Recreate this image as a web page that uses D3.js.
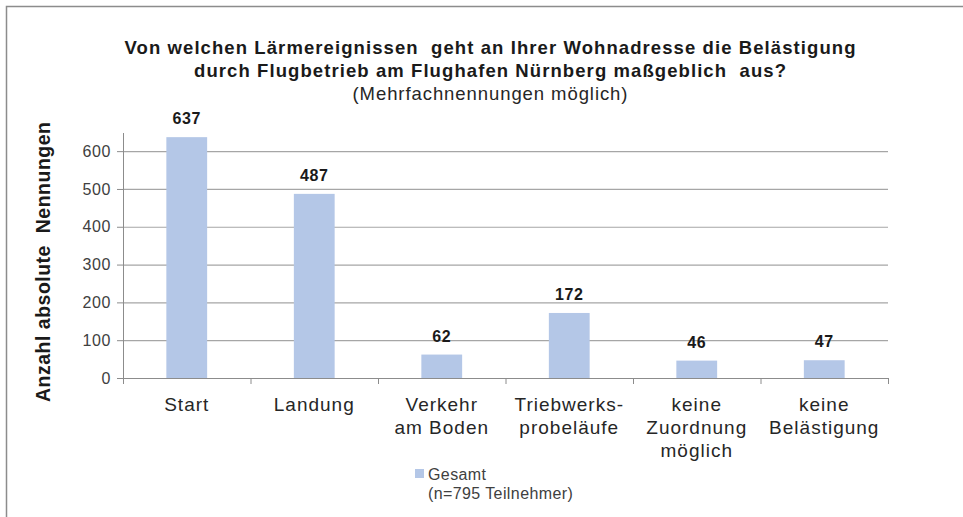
<!DOCTYPE html>
<html>
<head>
<meta charset="utf-8">
<script src="https://cdn.jsdelivr.net/npm/d3@7"></script>
<style>
  body{margin:0;background:#fff;}
  svg{font-family:"Liberation Sans",Arial,sans-serif;}
</style>
</head>
<body>
<svg width="963" height="517"></svg>
<script>
// data
const categories=[["Start"],["Landung"],["Verkehr","am Boden"],["Triebwerks-","probeläufe"],["keine","Zuordnung","möglich"],["keine","Belästigung"]];
const values=[637,487,62,172,46,47];
const yTicks=[0,100,200,300,400,500,600];
const titleLines=["Von welchen Lärmereignissen  geht an Ihrer Wohnadresse die Belästigung","durch Flugbetrieb am Flughafen Nürnberg maßgeblich  aus?"];
const subTitle="(Mehrfachnennungen möglich)";
const legendLines=["Gesamt","(n=795 Teilnehmer)"];

const svg=d3.select('svg');
const margin={top:133,left:123,right:75,bottom:139};
const W=963,H=517;
const innerW=W-margin.left-margin.right;
const innerH=H-margin.top-margin.bottom;

// outer frame (only top/left visible)
svg.append('path')
  .attr('d',`M6.5,${H} V6.5 H${W}`)
  .attr('fill','none').attr('stroke','#8c8c8c').attr('stroke-width',1.5);

const g=svg.append('g').attr('transform',`translate(${margin.left},${margin.top})`);

const x=d3.scaleBand().domain(d3.range(values.length)).range([0,innerW]).paddingInner(0.68).paddingOuter(0.34);
const y=d3.scaleLinear().domain([0,648]).range([innerH,0]);

// gridlines
g.selectAll('.grid').data(yTicks.slice(1)).enter().append('line')
  .attr('x1',0).attr('x2',innerW)
  .attr('y1',d=>y(d)+0.5).attr('y2',d=>y(d)+0.5)
  .attr('stroke','#a6a6a6').attr('stroke-width',1.2);

// y axis
const yAxis=g.append('g').call(d3.axisLeft(y).tickValues(yTicks).tickSize(6).tickPadding(6));
yAxis.select('.domain').attr('stroke','#8c8c8c').attr('d',`M0.5,0V${innerH}`);
yAxis.selectAll('.tick line').attr('stroke','#8c8c8c');
yAxis.selectAll('text').attr('font-size',16).attr('letter-spacing',0.6).attr('fill','#404040');

// bars
g.selectAll('rect').data(values).enter().append('rect')
  .attr('x',(d,i)=>x(i)).attr('width',x.bandwidth())
  .attr('y',d=>y(d)).attr('height',d=>innerH-y(d))
  .attr('fill','#b4c7e7');

// value labels
g.selectAll('.val').data(values).enter().append('text')
  .attr('x',(d,i)=>x(i)+x.bandwidth()/2).attr('y',d=>y(d)-13)
  .attr('text-anchor','middle').attr('font-size',16).attr('letter-spacing',0.6)
  .attr('font-weight','bold').attr('fill','#1a1a1a')
  .text(d=>d);

// x axis line and boundary ticks
const step=innerW/values.length;
g.append('line').attr('x1',0).attr('x2',innerW).attr('y1',innerH+0.5).attr('y2',innerH+0.5)
  .attr('stroke','#8c8c8c').attr('stroke-width',1.2);
g.selectAll('.xt').data(d3.range(values.length+1)).enter().append('line')
  .attr('x1',d=>d*step+0.5).attr('x2',d=>d*step+0.5)
  .attr('y1',innerH).attr('y2',innerH+6).attr('stroke','#8c8c8c');

// category labels
const cat=g.selectAll('.cat').data(categories).enter().append('text')
  .attr('text-anchor','middle').attr('font-size',19).attr('letter-spacing',1)
  .attr('fill','#262626')
  .attr('transform',(d,i)=>`translate(${x(i)+x.bandwidth()/2},${innerH+33})`);
cat.selectAll('tspan').data(d=>d).enter().append('tspan')
  .attr('x',0).attr('dy',(d,i)=>i?23:0).text(d=>d);

// title
const titleW=[731,592];
svg.selectAll('.title').data(titleLines).enter().append('text')
  .attr('x',490).attr('y',(d,i)=>54+i*23)
  .attr('text-anchor','middle').attr('font-size',18.5).attr('font-weight','bold').attr('fill','#1a1a1a')
  .attr('xml:space','preserve')
  .attr('textLength',(d,i)=>titleW[i]).attr('lengthAdjust','spacing')
  .text(d=>d);
svg.append('text').attr('x',490).attr('y',100)
  .attr('text-anchor','middle').attr('font-size',18.5).attr('fill','#262626')
  .attr('textLength',275).attr('lengthAdjust','spacing')
  .text(subTitle);

// y axis title
svg.append('text')
  .attr('transform','translate(50,262) rotate(-90)')
  .attr('text-anchor','middle').attr('font-size',19.5).attr('font-weight','bold').attr('fill','#1a1a1a')
  .attr('xml:space','preserve')
  .attr('textLength',280).attr('lengthAdjust','spacing')
  .text('Anzahl absolute  Nennungen');

// legend
svg.append('rect').attr('x',415).attr('y',469).attr('width',9).attr('height',9).attr('fill','#b4c7e7');
svg.selectAll('.leg').data(legendLines).enter().append('text')
  .attr('x',428).attr('y',(d,i)=>480+i*19)
  .attr('font-size',16).attr('letter-spacing',0.4).attr('fill','#404040')
  .text(d=>d);
</script>
</body>
</html>
